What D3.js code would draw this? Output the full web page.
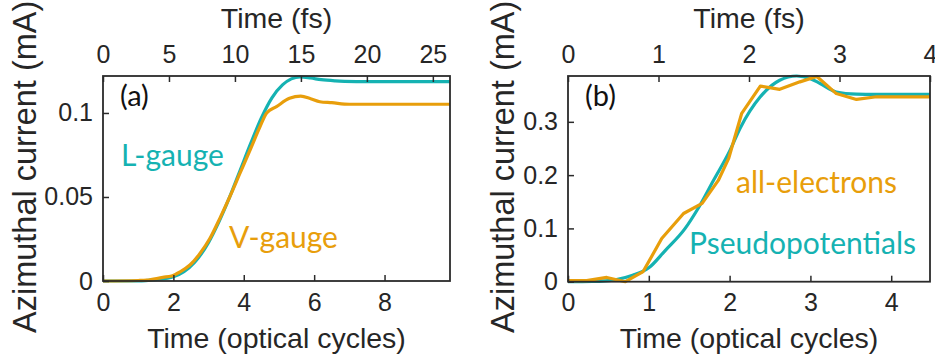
<!DOCTYPE html>
<html>
<head>
<meta charset="utf-8">
<script src="https://cdn.jsdelivr.net/npm/d3@7"></script>
<style>
  body { margin: 0; background: #fff; }
  svg { display: block; }
  .tick text { font-family: "Liberation Sans", Arial, sans-serif; }
</style>
</head>
<body>
<svg id="chart" width="935" height="356"></svg>
<script>
// panel (a): L-gauge vs V-gauge
const lGaugeT = [0, 1.0, 1.5, 2.0, 2.3, 2.6, 3.0, 3.3, 3.6, 3.9, 4.2, 4.5, 4.8, 5.1, 5.35, 5.6, 5.9, 6.2, 6.6, 7.2, 8.0, 9.86];
const lGaugeJ = [0, 0, 0.0008, 0.0025, 0.0055, 0.011, 0.023, 0.0355, 0.050, 0.066, 0.082, 0.097, 0.109, 0.1167, 0.1203, 0.1215, 0.1208, 0.1198, 0.1191, 0.1187, 0.1186, 0.1186];
const vGaugeT = [0, 1.0, 1.24, 1.7, 1.95, 2.19, 2.47, 2.76, 3.04, 3.32, 3.6, 3.89, 4.2, 4.46, 4.65, 4.93, 5.3, 5.62, 5.9, 6.16, 6.5, 7.0, 9.86];
const vGaugeJ = [0, 0.0003, 0.0005, 0.0022, 0.003, 0.0055, 0.0095, 0.0165, 0.0254, 0.0373, 0.050, 0.064, 0.079, 0.0918, 0.100, 0.1038, 0.1087, 0.110, 0.1085, 0.1067, 0.1061, 0.1052, 0.1052];

// panel (b): pseudopotentials vs all-electrons
const pseudoT = [0, 0.3, 0.6, 0.8, 1.0, 1.2, 1.45, 1.6, 1.8, 2.0, 2.13, 2.38, 2.62, 2.83, 3.0, 3.12, 3.32, 3.57, 3.8, 4.48];
const pseudoJ = [0, 0.0005, 0.004, 0.012, 0.026, 0.058, 0.1, 0.135, 0.19, 0.245, 0.288, 0.347, 0.378, 0.386, 0.381, 0.372, 0.356, 0.352, 0.3515, 0.3515];
const allElT = [0, 0.23, 0.48, 0.71, 0.93, 1.16, 1.43, 1.66, 1.86, 1.99, 2.15, 2.38, 2.62, 2.87, 3.08, 3.32, 3.57, 3.82, 4.48];
const allElJ = [0.002, 0.002, 0.008, 0, 0.019, 0.081, 0.128, 0.147, 0.19, 0.232, 0.316, 0.367, 0.361, 0.375, 0.385, 0.353, 0.342, 0.347, 0.347];

// ticks
const ticksA = { bottom: [0, 2, 4, 6, 8], top: [0, 5, 10, 15, 20, 25], left: [0, 0.05, 0.1] };
const ticksB = { bottom: [0, 1, 2, 3, 4], top: [0, 1, 2, 3, 4], left: [0, 0.1, 0.2, 0.3] };

const teal = "#15b2b2";
const orange = "#e89e0b";
const axisColor = "#2b2b2b";

const svg = d3.select("#chart");

function zip(xs, ys) { return xs.map((x, i) => [x, ys[i]]); }

function drawPanel(opt) {
  const { left, right, top, bottom } = opt.box;

  const x = d3.scaleLinear().domain(opt.xDomain).range([left, right]);
  const xTop = d3.scaleLinear().domain(opt.topDomain).range([left, right]);
  const y = d3.scaleLinear().domain(opt.yDomain).range([bottom, top]);

  const g = svg.append("g");

  // curves
  const line = (curve) => d3.line().x(d => x(d[0])).y(d => y(d[1])).curve(curve);
  opt.series.forEach(s => {
    g.append("path")
      .datum(zip(s.t, s.j))
      .attr("fill", "none")
      .attr("stroke", s.color)
      .attr("stroke-width", 3.2)
      .attr("stroke-linejoin", "round")
      .attr("d", line(s.curve));
  });

  // axes (ticks point inward, like matlab)
  const styleAxis = sel => {
    sel.select(".domain").remove();
    sel.selectAll(".tick line").attr("stroke", axisColor).attr("stroke-width", 1.5);
    sel.selectAll(".tick text").attr("fill", "#262626").attr("font-size", 25);
  };

  g.append("g")
    .attr("transform", `translate(0,${bottom})`)
    .call(d3.axisBottom(x).tickValues(opt.ticks.bottom).tickFormat(d3.format("")).tickSizeInner(-6).tickSizeOuter(0).tickPadding(12))
    .call(styleAxis);

  g.append("g")
    .attr("transform", `translate(0,${top})`)
    .call(d3.axisTop(xTop).tickValues(opt.ticks.top).tickFormat(d3.format("")).tickSizeInner(-6).tickSizeOuter(0).tickPadding(13))
    .call(styleAxis);

  g.append("g")
    .attr("transform", `translate(${left},0)`)
    .call(d3.axisLeft(y).tickValues(opt.ticks.left).tickFormat(d => d === 0 ? "0" : String(d)).tickSizeInner(-6).tickSizeOuter(0).tickPadding(10))
    .call(styleAxis);

  // box
  g.append("rect")
    .attr("x", left).attr("y", top)
    .attr("width", right - left).attr("height", bottom - top)
    .attr("fill", "none")
    .attr("stroke", axisColor)
    .attr("stroke-width", 1.8);

  // axis labels
  const labelFont = "'Liberation Sans', Arial, sans-serif";
  g.append("text")
    .attr("x", (left + right) / 2).attr("y", 28)
    .attr("text-anchor", "middle")
    .attr("font-family", labelFont).attr("font-size", 28.5).attr("fill", "#262626")
    .text("Time (fs)");
  g.append("text")
    .attr("x", (left + right) / 2).attr("y", 348)
    .attr("text-anchor", "middle")
    .attr("font-family", labelFont).attr("font-size", 28.5).attr("fill", "#262626")
    .text("Time (optical cycles)");
  g.append("text")
    .attr("transform", `translate(${opt.yLabelX},333) rotate(-90)`)
    .attr("text-anchor", "start")
    .attr("font-family", labelFont).attr("font-size", 32.5).attr("fill", "#262626")
    .text("Azimuthal current (mA)");

  // panel tag and series annotations
  const noteFont = "Lato, 'Open Sans', sans-serif";
  g.append("text")
    .attr("x", left + 17).attr("y", 106)
    .attr("font-family", noteFont).attr("font-size", 29).attr("fill", "#111")
    .text(opt.tag);
  opt.notes.forEach(n => {
    g.append("text")
      .attr("x", n.x).attr("y", n.y)
      .attr("font-family", noteFont).attr("font-size", 30).attr("fill", n.color)
      .text(n.text);
  });
}

drawPanel({
  box: { left: 103, right: 450, top: 76, bottom: 281 },
  xDomain: [0, 9.86],
  topDomain: [0, 26.3],
  yDomain: [0, 0.122],
  ticks: ticksA,
  yLabelX: 36,
  tag: "(a)",
  series: [
    { t: lGaugeT, j: lGaugeJ, color: teal, curve: d3.curveMonotoneX },
    { t: vGaugeT, j: vGaugeJ, color: orange, curve: d3.curveMonotoneX }
  ],
  notes: [
    { text: "L-gauge", x: 121, y: 166, color: teal },
    { text: "V-gauge", x: 229, y: 248, color: orange }
  ]
});

drawPanel({
  box: { left: 568, right: 930, top: 76, bottom: 281.7 },
  xDomain: [0, 4.48],
  topDomain: [0, 4],
  yDomain: [0, 0.386],
  ticks: ticksB,
  yLabelX: 514,
  tag: "(b)",
  series: [
    { t: pseudoT, j: pseudoJ, color: teal, curve: d3.curveMonotoneX },
    { t: allElT, j: allElJ, color: orange, curve: d3.curveLinear }
  ],
  notes: [
    { text: "all-electrons", x: 736, y: 193, color: orange },
    { text: "Pseudopotentials", x: 689, y: 254, color: teal }
  ]
});
</script>
</body>
</html>
